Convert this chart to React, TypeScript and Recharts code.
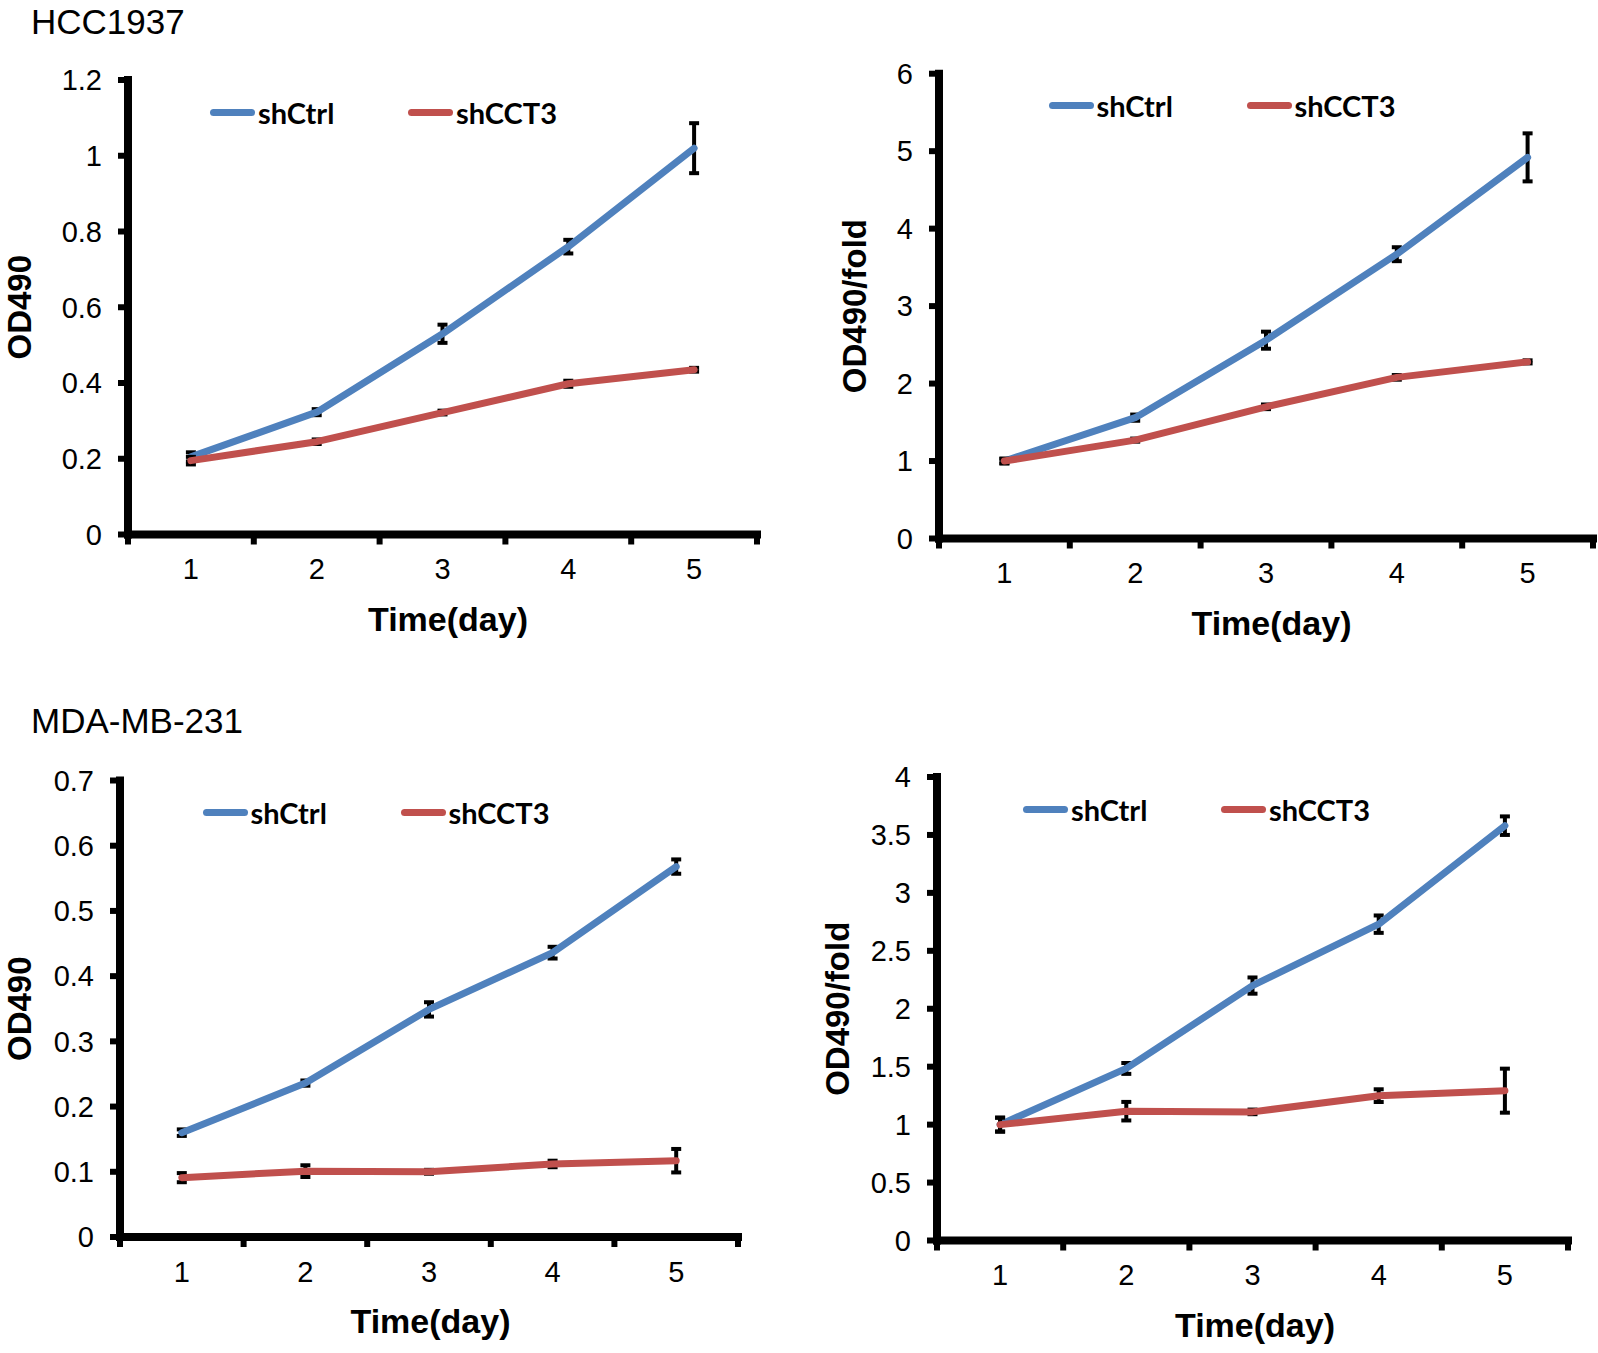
import React from 'react';
import { LineChart, Line, XAxis, YAxis, ErrorBar, Legend } from 'recharts';

// days on the x axis, plus the half steps where the band tick marks sit
const days = [1, 2, 3, 4, 5];
const dayTicks = [0.5, 1, 1.5, 2, 2.5, 3, 3.5, 4, 4.5, 5, 5.5];
const seriesNames = ['shCtrl', 'shCCT3'];

// HCC1937, OD490
const hccOdCtrl = [0.205, 0.323, 0.53, 0.76, 1.02];
const hccOdCtrlErr = [0.012, 0.008, 0.024, 0.018, 0.066];
const hccOdSh = [0.195, 0.245, 0.322, 0.398, 0.435];
const hccOdShErr = [0.01, 0.006, 0.005, 0.008, 0.005];
const hccOdTicks = [0, 0.2, 0.4, 0.6, 0.8, 1, 1.2];

// HCC1937, OD490 fold
const hccFoldCtrl = [1, 1.56, 2.56, 3.67, 4.92];
const hccFoldCtrlErr = [0.03, 0.04, 0.11, 0.09, 0.31];
const hccFoldSh = [1, 1.27, 1.7, 2.08, 2.28];
const hccFoldShErr = [0.03, 0.02, 0.03, 0.03, 0.02];
const hccFoldTicks = [0, 1, 2, 3, 4, 5, 6];

// MDA-MB-231, OD490
const mdaOdCtrl = [0.16, 0.236, 0.349, 0.436, 0.568];
const mdaOdCtrlErr = [0.005, 0.004, 0.011, 0.009, 0.011];
const mdaOdSh = [0.091, 0.101, 0.1, 0.112, 0.117];
const mdaOdShErr = [0.007, 0.009, 0.003, 0.005, 0.018];
const mdaOdTicks = [0, 0.1, 0.2, 0.3, 0.4, 0.5, 0.6, 0.7];

// MDA-MB-231, OD490 fold
const mdaFoldCtrl = [1, 1.485, 2.2, 2.73, 3.58];
const mdaFoldCtrlErr = [0.06, 0.047, 0.07, 0.075, 0.08];
const mdaFoldSh = [1, 1.116, 1.11, 1.25, 1.293];
const mdaFoldShErr = [0.06, 0.08, 0.02, 0.055, 0.19];
const mdaFoldTicks = [0, 0.5, 1, 1.5, 2, 2.5, 3, 3.5, 4];

const BLUE = '#4F81BD';
const RED = '#C0504D';
const FONT = '"Liberation Sans", Arial, sans-serif';
const LEGEND_FONT = 'Lato, "Liberation Sans Narrow", sans-serif';

const buildRows = (ctrl: number[], ctrlErr: number[], sh: number[], shErr: number[]) =>
  days.map((day, i) => ({ day, ctrl: ctrl[i], ctrlErr: ctrlErr[i], sh: sh[i], shErr: shErr[i] }));

const DayTick = (props: any) => {
  const { x, y, payload } = props;
  if (payload.value % 1 !== 0) {
    return <line x1={x} x2={x} y1={y} y2={y + 10} stroke="#000" strokeWidth={6} />;
  }
  return (
    <text x={x} y={y + 44.5} textAnchor="middle" fontSize={29} fontFamily={FONT} fill="#000">
      {payload.value}
    </text>
  );
};

const LegendRow = () => (
  <div style={{ position: 'relative', height: 0, width: 0 }}>
    {seriesNames.map((name, i) => (
      <div
        key={name}
        style={{ position: 'absolute', left: i * 198, top: -20, height: 40, display: 'flex', alignItems: 'center', whiteSpace: 'nowrap' }}
      >
        <span style={{ display: 'inline-block', width: 45, height: 7, borderRadius: 4, background: i === 0 ? BLUE : RED, marginRight: 3 }} />
        <span style={{ fontFamily: LEGEND_FONT, fontWeight: 700, fontSize: 29, color: '#000' }}>{name}</span>
      </div>
    ))}
  </div>
);

type PanelProps = {
  rows: any[];
  ticks: number[];
  yTitle: string;
  box: { left: number; top: number; right: number; bottom: number };
  plot: { x0: number; x1: number; y0: number; y1: number };
  yTitleGap: number;
  xTitleDx: number;
  legendDx: number;
};

const Panel = ({ rows, ticks, yTitle, box, plot, yTitleGap, xTitleDx, legendDx }: PanelProps) => {
  const width = box.right - box.left;
  const height = box.bottom - box.top;
  const yAxisWidth = plot.x0 - box.left;
  const xAxisHeight = box.bottom - plot.y1;
  return (
    <div style={{ position: 'absolute', left: box.left, top: box.top }}>
      <LineChart
        width={width}
        height={height}
        data={rows}
        margin={{ top: plot.y0 - box.top, right: box.right - plot.x1, left: 0, bottom: 0 }}
      >
        <XAxis
          dataKey="day"
          type="number"
          domain={[0.5, 5.5]}
          ticks={dayTicks}
          interval={0}
          height={xAxisHeight}
          axisLine={{ stroke: '#000', strokeWidth: 8, strokeLinecap: 'square' }}
          tickLine={false}
          tickSize={0}
          tickMargin={0}
          tick={<DayTick />}
          label={(p: any) => {
            const vb = p.viewBox;
            return (
              <text x={vb.x + vb.width / 2 + xTitleDx} y={vb.y + 96} textAnchor="middle" fontSize={34} fontWeight={700} fontFamily={FONT} fill="#000">
                Time(day)
              </text>
            );
          }}
        />
        <YAxis
          type="number"
          domain={[ticks[0], ticks[ticks.length - 1]]}
          ticks={ticks}
          interval={0}
          width={yAxisWidth}
          axisLine={{ stroke: '#000', strokeWidth: 8, strokeLinecap: 'square' }}
          tickLine={{ stroke: '#000', strokeWidth: 6 }}
          tickSize={10}
          tickMargin={16}
          tick={{ fill: '#000', fontSize: 29, fontFamily: FONT }}
          label={(p: any) => {
            const vb = p.viewBox;
            const cx = vb.x + vb.width - yTitleGap;
            const cy = vb.y + vb.height / 2;
            return (
              <text x={cx} y={cy} transform={`rotate(-90 ${cx} ${cy})`} textAnchor="middle" dominantBaseline="central" fontSize={33} fontWeight={700} fontFamily={FONT} fill="#000">
                {yTitle}
              </text>
            );
          }}
        />
        <Legend
          content={() => <LegendRow />}
          wrapperStyle={{ left: plot.x0 - box.left + legendDx, top: plot.y0 - box.top + 32, width: 0, height: 0 }}
        />
        <Line dataKey="ctrl" name="shCtrl" type="linear" stroke={BLUE} strokeWidth={7} strokeLinecap="round" strokeLinejoin="round" dot={false} isAnimationActive={false}>
          <ErrorBar dataKey="ctrlErr" direction="y" width={5} strokeWidth={4} stroke="#000" isAnimationActive={false} />
        </Line>
        <Line dataKey="sh" name="shCCT3" type="linear" stroke={RED} strokeWidth={7} strokeLinecap="round" strokeLinejoin="round" dot={false} isAnimationActive={false}>
          <ErrorBar dataKey="shErr" direction="y" width={5} strokeWidth={4} stroke="#000" isAnimationActive={false} />
        </Line>
      </LineChart>
    </div>
  );
};

const titleStyle: React.CSSProperties = { position: 'absolute', left: 31, fontSize: 35, lineHeight: 1, fontFamily: FONT, color: '#000', whiteSpace: 'nowrap' };

export default function App() {
  return (
    <div style={{ position: 'absolute', left: 0, top: 0, width: 1598, height: 1353, background: '#fff', overflow: 'hidden' }}>
      <div style={{ ...titleStyle, top: 4 }}>HCC1937</div>
      <div style={{ ...titleStyle, top: 702.5 }}>MDA-MB-231</div>
      <Panel
        rows={buildRows(hccOdCtrl, hccOdCtrlErr, hccOdSh, hccOdShErr)}
        ticks={hccOdTicks}
        yTitle="OD490"
        box={{ left: 0, top: 45, right: 790, bottom: 660 }}
        plot={{ x0: 128, x1: 757, y0: 80, y1: 534.5 }}
        yTitleGap={108.5}
        xTitleDx={5.5}
        legendDx={82}
      />
      <Panel
        rows={buildRows(hccFoldCtrl, hccFoldCtrlErr, hccFoldSh, hccFoldShErr)}
        ticks={hccFoldTicks}
        yTitle="OD490/fold"
        box={{ left: 800, top: 45, right: 1598, bottom: 660 }}
        plot={{ x0: 939, x1: 1593, y0: 73.7, y1: 538.5 }}
        yTitleGap={84.5}
        xTitleDx={5.5}
        legendDx={109.5}
      />
      <Panel
        rows={buildRows(mdaOdCtrl, mdaOdCtrlErr, mdaOdSh, mdaOdShErr)}
        ticks={mdaOdTicks}
        yTitle="OD490"
        box={{ left: 0, top: 745, right: 790, bottom: 1353 }}
        plot={{ x0: 120, x1: 738, y0: 780.5, y1: 1237 }}
        yTitleGap={100.5}
        xTitleDx={1.5}
        legendDx={82.5}
      />
      <Panel
        rows={buildRows(mdaFoldCtrl, mdaFoldCtrlErr, mdaFoldSh, mdaFoldShErr)}
        ticks={mdaFoldTicks}
        yTitle="OD490/fold"
        box={{ left: 800, top: 745, right: 1598, bottom: 1353 }}
        plot={{ x0: 937, x1: 1568, y0: 777, y1: 1240.5 }}
        yTitleGap={100}
        xTitleDx={2.5}
        legendDx={86}
      />
    </div>
  );
}
